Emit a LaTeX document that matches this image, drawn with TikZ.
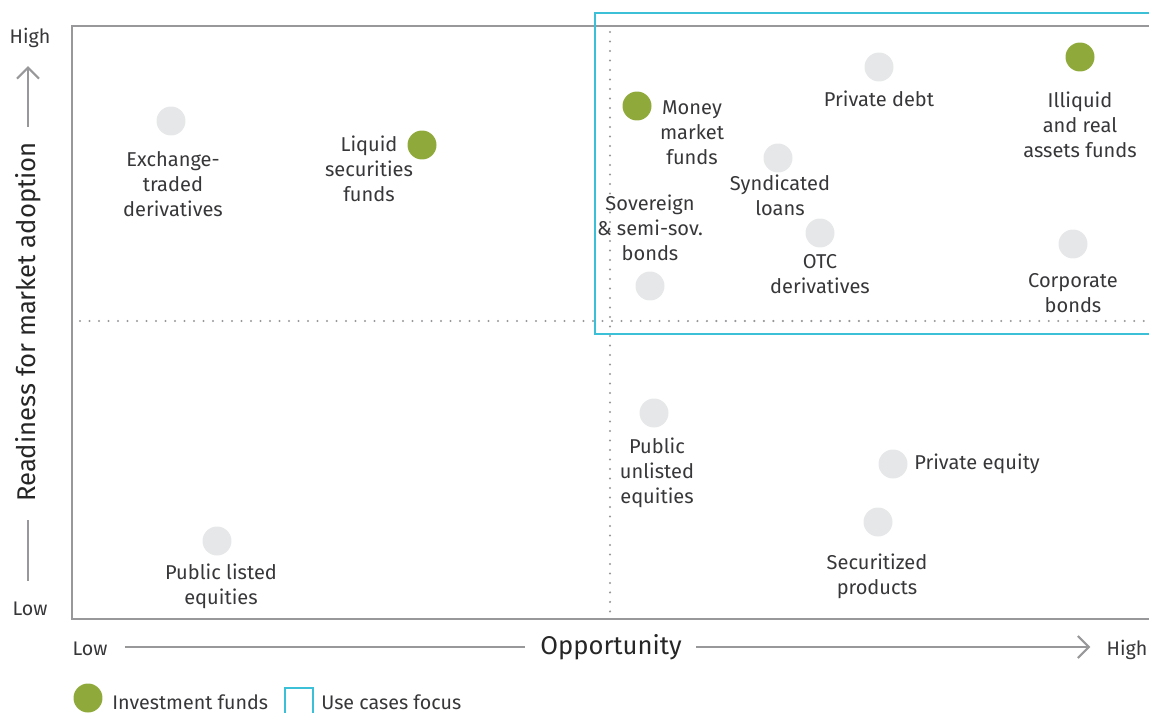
\documentclass[tikz,border=0pt]{standalone}
\usepackage{fontspec}
\setmainfont{Fira Sans}
\usepackage{tikz}
\usetikzlibrary{positioning}
\usetikzlibrary{arrows.meta}
\definecolor{frameGray}{RGB}{152,152,154}
\definecolor{dotGray}{RGB}{230,231,232}
\definecolor{fundGreen}{RGB}{143,170,59}
\definecolor{focusCyan}{RGB}{59,192,216}
\definecolor{textGray}{RGB}{55,55,58}
\tikzstyle{chart} = [x = 0.02cm, y = -0.02cm, every node/.style={text=textGray}]
\tikzstyle{frameLine} = [color=frameGray, line width=1.6pt]
\tikzstyle{quadrantLine} = [color=frameGray, line width=1.3pt, line cap=round, dash pattern=on 0pt off 0.19cm]
\tikzstyle{focusLine} = [color=focusCyan, line width=1.4pt]
\tikzstyle{axisLine} = [color=frameGray, line width=1.2pt]
\tikzstyle{axisArrow} = [axisLine, -{Straight Barb[length=0.22cm, width=0.44cm, line width=1.2pt]}]
\tikzstyle{assetDot} = [circle, minimum size=0.58cm, inner sep=0pt]
\tikzstyle{assetText} = [font=\fontsize{11.4}{14.2}\selectfont, align=center, inner sep=0pt]
\tikzstyle{axisText} = [font=\fontsize{11.2}{13}\selectfont, inner sep=0pt]
\tikzstyle{axisTitle} = [font=\fontsize{14.6}{16}\selectfont, text=black!85, inner sep=0pt]
\newcommand{\asset}[4]{\node [assetDot, fill=#4] (#1) at (#2,#3) {};}
\newcommand{\assetLabel}[4]{\node [assetText] (#1Label) at (#2,#3) {#4};}

\begin{document}
\begin{tikzpicture}[chart]
  \useasboundingbox (0,0) rectangle (1149,713);

  % quadrants
  \draw [quadrantLine] (610,32) -- (610,619);
  \draw [quadrantLine] (80,321) -- (1149,321);
  \draw [frameLine] (1160,26) -- (72,26) -- (72,619) -- (1160,619);
  \draw [focusLine] (1160,13) -- (595,13) -- (595,334) -- (1160,334);

  % assets
  \asset{exchange}{171}{121}{dotGray}
  \assetLabel{exchange}{173}{184}{Exchange-\\traded\\derivatives}
  \asset{liquid}{422}{145}{fundGreen}
  \assetLabel{liquid}{369}{169}{Liquid\\securities\\funds}
  \asset{money}{637}{106}{fundGreen}
  \assetLabel{money}{692}{133}{Money\\market\\funds}
  \asset{privateDebt}{879}{67}{dotGray}
  \assetLabel{privateDebt}{879}{99}{Private debt}
  \asset{illiquid}{1080}{57}{fundGreen}
  \assetLabel{illiquid}{1080}{125}{Illiquid\\and real\\assets funds}
  \asset{syndicated}{778}{158}{dotGray}
  \assetLabel{syndicated}{780}{195}{Syndicated\\loans}
  \asset{sovereign}{650}{286}{dotGray}
  \assetLabel{sovereign}{650}{228}{Sovereign\\\& semi-sov.\\bonds}
  \asset{otc}{820}{233}{dotGray}
  \assetLabel{otc}{820}{274}{OTC\\derivatives}
  \asset{corporate}{1073}{244}{dotGray}
  \assetLabel{corporate}{1073}{293}{Corporate\\bonds}
  \asset{unlisted}{654}{413}{dotGray}
  \assetLabel{unlisted}{657}{473}{Public\\unlisted\\equities}
  \asset{privateEquity}{893}{464}{dotGray}
  \node [assetText, right=0.42cm of privateEquity.center, anchor=west] (privateEquityLabel) {Private equity};
  \asset{securitized}{878}{522}{dotGray}
  \assetLabel{securitized}{877}{576}{Securitized\\products}
  \asset{listed}{217}{541}{dotGray}
  \assetLabel{listed}{221}{586}{Public listed\\equities}

  % axes
  \node [axisTitle, rotate=90] (yTitle) at (28,322) {Readiness for market adoption};
  \node [axisText] (yHigh) at (30,38) {High};
  \node [axisText] (yLow) at (30,609) {Low};
  \draw [axisArrow, shorten <=0.3cm, shorten >=0.36cm] (yTitle.east) -- (yTitle.east |- yHigh.south);
  \draw [axisLine, shorten <=0.36cm, shorten >=0.42cm] (yTitle.west) -- (yTitle.west |- yLow.north);
  \node [axisText] (xLow) at (90,649) {Low};
  \node [axisTitle] (xTitle) at (611,647) {Opportunity};
  \node [axisText] (xHigh) at (1127,650) {High};
  \draw [axisLine, shorten <=0.34cm, shorten >=0.3cm] (xLow.east |- xTitle.west) -- (xTitle.west);
  \draw [axisArrow, shorten <=0.28cm, shorten >=0.32cm] (xTitle.east) -- (xTitle.east -| xHigh.west);

  % legend
  \node [assetDot, fill=fundGreen] (legendFund) at (88,698) {};
  \node [axisText, anchor=west] (legendFundText) at (112,702) {Investment funds};
  \draw [focusLine] (285,720) -- (285,688) -- (313,688) -- (313,720);
  \node [axisText, anchor=west] (legendFocusText) at (321,702) {Use cases focus};
\end{tikzpicture}
\end{document}
